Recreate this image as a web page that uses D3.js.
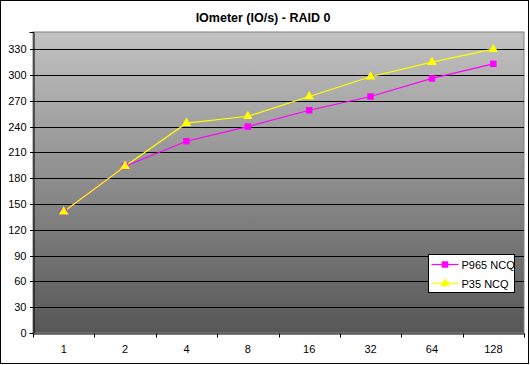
<!DOCTYPE html>
<html lang="en">
<head>
  <meta charset="UTF-8" />
  <title>IOmeter (IO/s) - RAID 0</title>
  <script src="https://d3js.org/d3.v7.min.js"></script>
  <style>
    body {
      margin: 0;
      background: #fff;
    }
    svg text {
      font-family: "Liberation Sans", Arial, sans-serif;
      fill: #000;
    }
  </style>
</head>
<body>

<svg id="chart" width="530" height="365"></svg>

<script>
/* ---------------- DATA ---------------- */

const categories = ["1", "2", "4", "8", "16", "32", "64", "128"];
const p965 = [141, 194, 223, 240, 259, 275, 296, 313];
const p35 = [141, 194, 244, 252, 275, 298, 315, 330];
const yTicks = [0, 30, 60, 90, 120, 150, 180, 210, 240, 270, 300, 330];

const series = [
  { name: "P965 NCQ", values: p965, color: "#ff00ff", marker: "square" },
  { name: "P35 NCQ", values: p35, color: "#ffff00", marker: "triangle" }
];

/* ---------------- SETUP ---------------- */

const svg = d3.select("#chart");
const plot = { left: 33, right: 524, top: 32, bottom: 333 };

const x = d3.scaleBand()
  .domain(categories)
  .range([plot.left, plot.right]);

const y = d3.scaleLinear()
  .domain([0, 350])
  .range([plot.bottom, plot.top]);

// outer frame
svg.append("rect")
  .attr("x", 0.5).attr("y", 0.5)
  .attr("width", 528).attr("height", 363)
  .attr("fill", "#fff")
  .attr("stroke", "#000");

// plot background gradient
const grad = svg.append("defs").append("linearGradient")
  .attr("id", "bg")
  .attr("x1", 0).attr("y1", 0).attr("x2", 0).attr("y2", 1);
grad.append("stop").attr("offset", "0%").attr("stop-color", "#c2c2c2");
grad.append("stop").attr("offset", "100%").attr("stop-color", "#575757");

svg.append("rect")
  .attr("x", plot.left).attr("y", plot.top)
  .attr("width", plot.right - plot.left)
  .attr("height", plot.bottom - plot.top)
  .attr("fill", "url(#bg)")
  .attr("stroke", "#808080");

/* ---------------- TITLE ---------------- */

svg.append("text")
  .attr("x", 263).attr("y", 22)
  .attr("text-anchor", "middle")
  .style("font-size", "12.5px")
  .style("font-weight", "bold")
  .text("IOmeter (IO/s) - RAID 0");

/* ---------------- GRID + AXES ---------------- */

svg.append("g")
  .selectAll("line")
  .data(yTicks.filter(d => d > 0))
  .join("line")
  .attr("x1", plot.left).attr("x2", plot.right)
  .attr("y1", d => Math.round(y(d)) + 0.5)
  .attr("y2", d => Math.round(y(d)) + 0.5)
  .attr("stroke", "#000");

const yAxis = svg.append("g")
  .attr("transform", `translate(${plot.left + 0.5},0)`)
  .call(d3.axisLeft(y).tickValues(yTicks).tickSize(4).tickPadding(3));

const xAxis = svg.append("g")
  .attr("transform", `translate(0,${plot.bottom + 0.5})`)
  .call(d3.axisBottom(x).tickSize(4).tickPadding(8).tickSizeOuter(0));

// Excel puts ticks between categories, not at their centres
xAxis.selectAll(".tick line").remove();
xAxis.selectAll(".boundary")
  .data(d3.range(categories.length + 1))
  .join("line")
  .attr("x1", i => Math.round(plot.left + i * x.step()) + 0.5)
  .attr("x2", i => Math.round(plot.left + i * x.step()) + 0.5)
  .attr("y1", 0).attr("y2", 4)
  .attr("stroke", "#000");

[yAxis, xAxis].forEach(a => {
  a.selectAll("text").style("font-size", "11px").attr("fill", "#000");
  a.selectAll("line").attr("stroke", "#000");
  a.select(".domain").attr("stroke", "#000");
});
yAxis.selectAll(".tick line").attr("shape-rendering", "crispEdges");

/* ---------------- SERIES ---------------- */

const cx = c => x(c) + x.bandwidth() / 2;

const line = d3.line()
  .x((d, i) => cx(categories[i]))
  .y(d => y(d));

series.forEach(s => {
  svg.append("path")
    .datum(s.values)
    .attr("fill", "none")
    .attr("stroke", s.color)
    .attr("stroke-width", 1.2)
    .attr("d", line);
});

const symbolFor = m => m === "square"
  ? d3.symbol().type(d3.symbolSquare).size(42)
  : d3.symbol().type(d3.symbolTriangle).size(40);

series.forEach(s => {
  svg.append("g")
    .selectAll("path")
    .data(s.values)
    .join("path")
    .attr("transform", (d, i) => `translate(${cx(categories[i])},${y(d)})`)
    .attr("d", symbolFor(s.marker))
    .attr("fill", s.color);
});

/* ---------------- LEGEND ---------------- */

const legend = svg.append("g").attr("transform", "translate(428.5,254.5)");

legend.append("rect")
  .attr("width", 86).attr("height", 38)
  .attr("fill", "#fff")
  .attr("stroke", "#000");

series.forEach((s, i) => {
  const ly = 10 + i * 19;
  legend.append("line")
    .attr("x1", 3).attr("x2", 30)
    .attr("y1", ly).attr("y2", ly)
    .attr("stroke", s.color)
    .attr("stroke-width", 1.2);
  legend.append("path")
    .attr("transform", `translate(16.5,${ly})`)
    .attr("d", symbolFor(s.marker))
    .attr("fill", s.color);
  legend.append("text")
    .attr("x", 33).attr("y", ly + 4)
    .style("font-size", "11px")
    .text(s.name);
});
</script>

</body>
</html>
